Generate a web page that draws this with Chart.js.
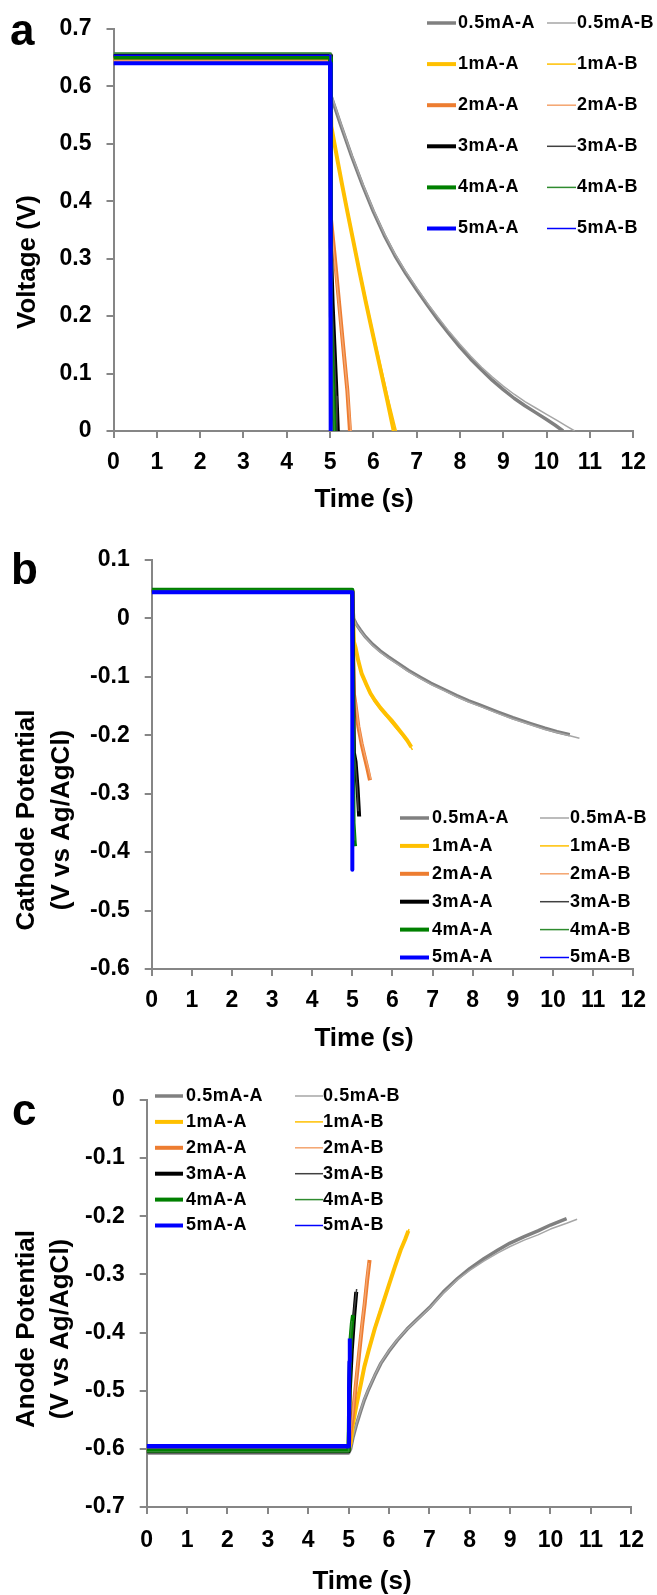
<!DOCTYPE html>
<html>
<head>
<meta charset="utf-8">
<script src="https://cdn.jsdelivr.net/npm/chart.js@4.4.0/dist/chart.umd.min.js"></script>
<style>
body { margin: 0; background: #fff; }
canvas { position: absolute; left: 0; }
</style>
</head>
<body>
<canvas id="chartA" width="657" height="525" style="top:0px"></canvas>
<canvas id="chartB" width="657" height="540" style="top:520px"></canvas>
<canvas id="chartC" width="657" height="545" style="top:1050px"></canvas>
<script>
var seriesNames = ['0.5mA-A', '0.5mA-B', '1mA-A', '1mA-B', '2mA-A', '2mA-B', '3mA-A', '3mA-B', '4mA-A', '4mA-B', '5mA-A', '5mA-B'];
var seriesColors = ['#808080', '#a6a6a6', '#FFC000', '#FFC000', '#ED7D31', '#F4A46E', '#000000', '#404040', '#008000', '#2E8B2E', '#0000FF', '#0000FF'];
var seriesWidths = [3.5, 1.5, 4, 1.5, 4, 1.5, 4, 1.5, 4, 1.5, 4, 1.5];
var timeTicks = [0, 12, 1];

// a: cell voltage (V) vs time (s)
var volt05A = [[0,0.655],[5,0.655],[5.02,0.584],[5.25,0.532],[5.5,0.478],[5.75,0.428],[6.0,0.382],[6.25,0.341],[6.5,0.305],[6.75,0.274],[7.0,0.246],[7.25,0.219],[7.5,0.193],[7.75,0.169],[8.0,0.146],[8.25,0.125],[8.5,0.106],[8.75,0.088],[9.0,0.072],[9.25,0.057],[9.5,0.044],[9.75,0.032],[10.0,0.02],[10.2,0.01],[10.38,0]];
var volt05B = [[0,0.657],[5,0.657],[5.02,0.588],[5.25,0.535],[5.5,0.481],[5.75,0.431],[6.0,0.385],[6.25,0.344],[6.5,0.308],[6.75,0.277],[7.0,0.249],[7.25,0.222],[7.5,0.197],[7.75,0.173],[8.0,0.151],[8.25,0.13],[8.5,0.111],[8.75,0.094],[9.0,0.078],[9.25,0.064],[9.5,0.051],[9.75,0.04],[10.0,0.029],[10.25,0.018],[10.45,0.009],[10.65,0]];
var volt1A = [[0,0.648],[5,0.648],[5.03,0.53],[5.09,0.505],[5.18,0.468],[5.28,0.428],[5.4,0.382],[5.52,0.337],[5.67,0.281],[5.83,0.223],[6.0,0.164],[6.16,0.109],[6.32,0.054],[6.47,0]];
var volt1B = [[0,0.647],[5,0.647],[5.03,0.535],[5.09,0.51],[5.18,0.473],[5.28,0.433],[5.4,0.387],[5.52,0.342],[5.67,0.286],[5.83,0.229],[6.0,0.17],[6.16,0.117],[6.34,0.058],[6.53,0]];
var volt2A = [[0,0.646],[5,0.646],[5.02,0.37],[5.1,0.31],[5.2,0.23],[5.3,0.15],[5.4,0.07],[5.46,0]];
var volt2B = [[0,0.644],[5,0.644],[5.02,0.36],[5.1,0.3],[5.2,0.225],[5.3,0.148],[5.4,0.072],[5.48,0]];
var volt3A = [[0,0.653],[5,0.653],[5.02,0.32],[5.06,0.22],[5.1,0.15],[5.14,0.08],[5.18,0]];
var volt3B = [[0,0.652],[5,0.652],[5.02,0.3],[5.06,0.2],[5.1,0.13],[5.14,0.06],[5.16,0]];
var volt4A = [[0,0.65],[5,0.65],[5.02,0.2],[5.05,0.12],[5.08,0.05],[5.1,0]];
var volt4B = [[0,0.658],[5,0.658],[5.02,0.22],[5.05,0.13],[5.08,0.05],[5.1,0]];
var volt5A = [[0,0.64],[5,0.64],[5.01,0.08],[5.02,0]];
var volt5B = [[0,0.654],[5,0.654],[5.01,0.09],[5.02,0]];
var voltTicks = [0, 0.7, 0.1];

// b: cathode potential (V vs Ag/AgCl)
var cath05A = [[0,0.047],[5,0.047],[5.03,0.0],[5.1,-0.01],[5.2,-0.02],[5.32,-0.031],[5.5,-0.044],[5.7,-0.056],[5.9,-0.066],[6.14,-0.077],[6.4,-0.089],[6.7,-0.101],[6.96,-0.111],[7.3,-0.122],[7.6,-0.132],[7.9,-0.141],[8.2,-0.149],[8.61,-0.16],[9.0,-0.17],[9.44,-0.18],[9.8,-0.188],[10.1,-0.194],[10.42,-0.199]];
var cath05B = [[0,0.048],[5,0.048],[5.03,0.0],[5.1,-0.011],[5.2,-0.021],[5.32,-0.032],[5.5,-0.046],[5.7,-0.058],[5.9,-0.068],[6.14,-0.079],[6.4,-0.091],[6.7,-0.103],[6.96,-0.113],[7.3,-0.124],[7.6,-0.134],[7.9,-0.143],[8.2,-0.151],[8.61,-0.162],[9.0,-0.172],[9.44,-0.182],[9.8,-0.19],[10.2,-0.197],[10.66,-0.205]];
var cath1A = [[0,0.047],[5,0.047],[5.04,-0.04],[5.08,-0.05],[5.15,-0.073],[5.23,-0.094],[5.35,-0.113],[5.45,-0.128],[5.56,-0.14],[5.7,-0.153],[5.85,-0.165],[5.97,-0.174],[6.1,-0.185],[6.25,-0.198],[6.37,-0.209],[6.47,-0.22]];
var cath1B = [[0,0.046],[5,0.046],[5.04,-0.042],[5.08,-0.053],[5.15,-0.076],[5.23,-0.097],[5.35,-0.116],[5.45,-0.131],[5.56,-0.143],[5.7,-0.156],[5.85,-0.168],[5.97,-0.178],[6.1,-0.189],[6.25,-0.201],[6.38,-0.212],[6.5,-0.225]];
var cath2A = [[0,0.047],[5,0.047],[5.04,-0.13],[5.08,-0.148],[5.15,-0.185],[5.23,-0.214],[5.3,-0.235],[5.37,-0.255],[5.44,-0.277]];
var cath2B = [[0,0.046],[5,0.046],[5.04,-0.13],[5.08,-0.143],[5.15,-0.18],[5.23,-0.21],[5.3,-0.231],[5.38,-0.252],[5.46,-0.275]];
var cath3A = [[0,0.047],[5,0.047],[5.04,-0.23],[5.08,-0.245],[5.13,-0.29],[5.17,-0.339]];
var cath3B = [[0,0.047],[5,0.047],[5.04,-0.23],[5.08,-0.25],[5.12,-0.29],[5.15,-0.33]];
var cath4A = [[0,0.049],[5,0.049],[5.03,-0.35],[5.06,-0.385],[5.07,-0.39]];
var cath4B = [[0,0.048],[5,0.048],[5.03,-0.35],[5.06,-0.38]];
var cath5A = [[0,0.045],[5,0.045],[5.0,-0.43]];
var cath5B = [[0,0.046],[5,0.046],[5.0,-0.42]];
var cathTicks = [-0.6, 0.1, 0.1];

// c: anode potential (V vs Ag/AgCl)
var anod05A = [[0,-0.607],[5,-0.607],[5.05,-0.6],[5.11,-0.58],[5.2,-0.557],[5.3,-0.535],[5.39,-0.516],[5.5,-0.497],[5.65,-0.474],[5.8,-0.453],[6.0,-0.432],[6.21,-0.413],[6.45,-0.394],[6.7,-0.377],[7.03,-0.355],[7.35,-0.33],[7.7,-0.307],[8.0,-0.29],[8.35,-0.273],[8.7,-0.258],[9.0,-0.246],[9.35,-0.235],[9.69,-0.225],[10.0,-0.215],[10.4,-0.204]];
var anod05B = [[0,-0.606],[5,-0.606],[5.05,-0.598],[5.11,-0.578],[5.2,-0.555],[5.3,-0.533],[5.39,-0.514],[5.5,-0.496],[5.65,-0.473],[5.8,-0.452],[6.0,-0.431],[6.21,-0.412],[6.45,-0.394],[6.7,-0.378],[7.03,-0.356],[7.35,-0.332],[7.7,-0.309],[8.0,-0.293],[8.35,-0.277],[8.7,-0.263],[9.0,-0.252],[9.35,-0.241],[9.69,-0.232],[10.0,-0.222],[10.4,-0.212],[10.66,-0.205]];
var anod1A = [[0,-0.601],[5,-0.601],[5.05,-0.59],[5.1,-0.56],[5.2,-0.523],[5.3,-0.49],[5.39,-0.459],[5.5,-0.43],[5.65,-0.393],[5.8,-0.361],[6.0,-0.318],[6.15,-0.286],[6.29,-0.258],[6.4,-0.24],[6.48,-0.225]];
var anod1B = [[0,-0.6],[5,-0.6],[5.05,-0.585],[5.1,-0.555],[5.2,-0.519],[5.3,-0.486],[5.39,-0.455],[5.5,-0.426],[5.65,-0.389],[5.8,-0.357],[6.0,-0.315],[6.15,-0.283],[6.29,-0.256],[6.4,-0.237],[6.5,-0.222]];
var anod2A = [[0,-0.602],[5,-0.602],[5.05,-0.57],[5.1,-0.545],[5.18,-0.49],[5.27,-0.43],[5.34,-0.385],[5.4,-0.35],[5.46,-0.31],[5.52,-0.275]];
var anod2B = [[0,-0.603],[5,-0.603],[5.05,-0.565],[5.1,-0.54],[5.18,-0.485],[5.27,-0.425],[5.34,-0.38],[5.4,-0.345],[5.45,-0.31],[5.5,-0.28]];
var anod3A = [[0,-0.604],[5,-0.604],[5.03,-0.5],[5.08,-0.43],[5.14,-0.37],[5.19,-0.33]];
var anod3B = [[0,-0.603],[5,-0.603],[5.03,-0.49],[5.08,-0.42],[5.14,-0.36],[5.2,-0.325]];
var anod4A = [[0,-0.603],[5,-0.603],[5.02,-0.48],[5.05,-0.41],[5.08,-0.385],[5.11,-0.37]];
var anod4B = [[0,-0.605],[5,-0.605],[5.02,-0.47],[5.05,-0.4],[5.08,-0.38]];
var anod5A = [[0,-0.595],[5,-0.595],[5.01,-0.5],[5.02,-0.45],[5.03,-0.41]];
var anod5B = [[0,-0.598],[5,-0.598],[5.01,-0.5],[5.03,-0.42]];
var anodTicks = [-0.7, 0, 0.1];

var FONT = '"Liberation Sans", Arial, sans-serif';
var AXIS_GREY = '#868686';

function makeDatasets(list) {
    return list.map(function (pts, i) {
        return {
            label: seriesNames[i],
            data: pts,
            borderColor: seriesColors[i],
            backgroundColor: seriesColors[i],
            borderWidth: seriesWidths[i],
            showLine: true,
            pointRadius: 0,
            fill: false,
            tension: 0,
            borderJoinStyle: 'round',
            order: list.length - i
        };
    });
}

// panel letter, axis titles and the two-column legend
var panelDecor = {
    id: 'panelDecor',
    afterDraw: function (chart, args, o) {
        var ctx = chart.ctx;
        ctx.save();
        ctx.fillStyle = '#000';
        ctx.font = 'bold 44px ' + FONT;
        ctx.textAlign = 'left';
        ctx.textBaseline = 'alphabetic';
        ctx.fillText(o.letter, o.letterX, o.letterY);

        ctx.font = 'bold 26px ' + FONT;
        ctx.textAlign = 'center';
        ctx.textBaseline = 'middle';
        ctx.fillText('Time (s)', o.xTitleX, o.xTitleY);
        ctx.save();
        ctx.translate(0, o.yTitleY);
        ctx.rotate(-Math.PI / 2);
        o.yTitle.forEach(function (line, i) {
            ctx.fillText(line, 0, o.yTitleX[i]);
        });
        ctx.restore();

        var lg = o.legend;
        ctx.font = 'bold 18px ' + FONT;
        ctx.textAlign = 'left';
        if ('letterSpacing' in ctx) ctx.letterSpacing = '0.6px';
        chart.data.datasets.forEach(function (ds, i) {
            var col = i % 2;
            var y = lg.top + Math.floor(i / 2) * lg.step;
            ctx.strokeStyle = ds.borderColor;
            ctx.lineWidth = ds.borderWidth;
            ctx.beginPath();
            ctx.moveTo(lg.lineX[col], y);
            ctx.lineTo(lg.lineX[col] + lg.lineLen, y);
            ctx.stroke();
            ctx.fillText(ds.label, lg.textX[col], y);
        });
        ctx.restore();
    }
};

function makeChart(id, series, yTicks, area, decor) {
    var canvas = document.getElementById(id);
    var H = canvas.height, W = canvas.width;
    return new Chart(canvas.getContext('2d'), {
        type: 'scatter',
        data: { datasets: makeDatasets(series) },
        options: {
            responsive: false,
            animation: false,
            devicePixelRatio: 1,
            layout: { padding: { left: 0, top: area.top, right: W - area.right, bottom: 0 } },
            plugins: {
                legend: { display: false },
                tooltip: { enabled: false },
                panelDecor: decor
            },
            scales: {
                x: {
                    type: 'linear',
                    min: timeTicks[0], max: timeTicks[1],
                    afterFit: function (s) { s.height = H - area.bottom; },
                    border: { color: AXIS_GREY, width: 2 },
                    grid: { drawOnChartArea: false, drawTicks: true, tickLength: 7, color: AXIS_GREY, lineWidth: 2 },
                    ticks: {
                        stepSize: timeTicks[2], autoSkip: false, maxRotation: 0,
                        padding: area.xPad, color: '#000',
                        font: { family: FONT, size: 23, weight: 'bold' }
                    }
                },
                y: {
                    min: yTicks[0], max: yTicks[1],
                    afterFit: function (s) { s.width = area.left; },
                    border: { color: AXIS_GREY, width: 2 },
                    grid: { drawOnChartArea: false, drawTicks: true, tickLength: 7, color: AXIS_GREY, lineWidth: 2 },
                    ticks: {
                        stepSize: yTicks[2], padding: 15, color: '#000',
                        font: { family: FONT, size: 23, weight: 'bold' },
                        callback: function (v) { return String(Math.round(v * 10) / 10); }
                    }
                }
            }
        },
        plugins: [panelDecor]
    });
}

window.onload = function () {
    makeChart('chartA',
        [volt05A, volt05B, volt1A, volt1B, volt2A, volt2B, volt3A, volt3B, volt4A, volt4B, volt5A, volt5B],
        voltTicks,
        { left: 113.5, right: 637.7, top: 20.7, bottom: 431, xPad: 11 },
        {
            letter: 'a', letterX: 10, letterY: 45,
            xTitleX: 364, xTitleY: 500,
            yTitle: ['Voltage (V)'], yTitleX: [28], yTitleY: 262,
            legend: { top: 23, step: 41.1, lineX: [427, 547], lineLen: 29, textX: [458, 577] }
        });

    makeChart('chartB',
        [cath05A, cath05B, cath1A, cath1B, cath2A, cath2B, cath3A, cath3B, cath4A, cath4B, cath5A, cath5B],
        cathTicks,
        { left: 151.7, right: 637, top: 40, bottom: 449, xPad: 11 },
        {
            letter: 'b', letterX: 11, letterY: 64,
            xTitleX: 364, xTitleY: 519,
            yTitle: ['Cathode Potential', '(V vs Ag/AgCl)'], yTitleX: [27, 62], yTitleY: 300,
            legend: { top: 298, step: 27.9, lineX: [400, 540], lineLen: 29, textX: [432, 570] }
        });

    makeChart('chartC',
        [anod05A, anod05B, anod1A, anod1B, anod2A, anod2B, anod3A, anod3B, anod4A, anod4B, anod5A, anod5B],
        anodTicks,
        { left: 146.7, right: 636, top: 50, bottom: 457, xPad: 13 },
        {
            letter: 'c', letterX: 12, letterY: 75,
            xTitleX: 362, xTitleY: 532,
            yTitle: ['Anode Potential', '(V vs Ag/AgCl)'], yTitleX: [27, 61], yTitleY: 279,
            legend: { top: 46, step: 25.9, lineX: [155, 295], lineLen: 28, textX: [186, 323] }
        });
};
</script>
</body>
</html>
